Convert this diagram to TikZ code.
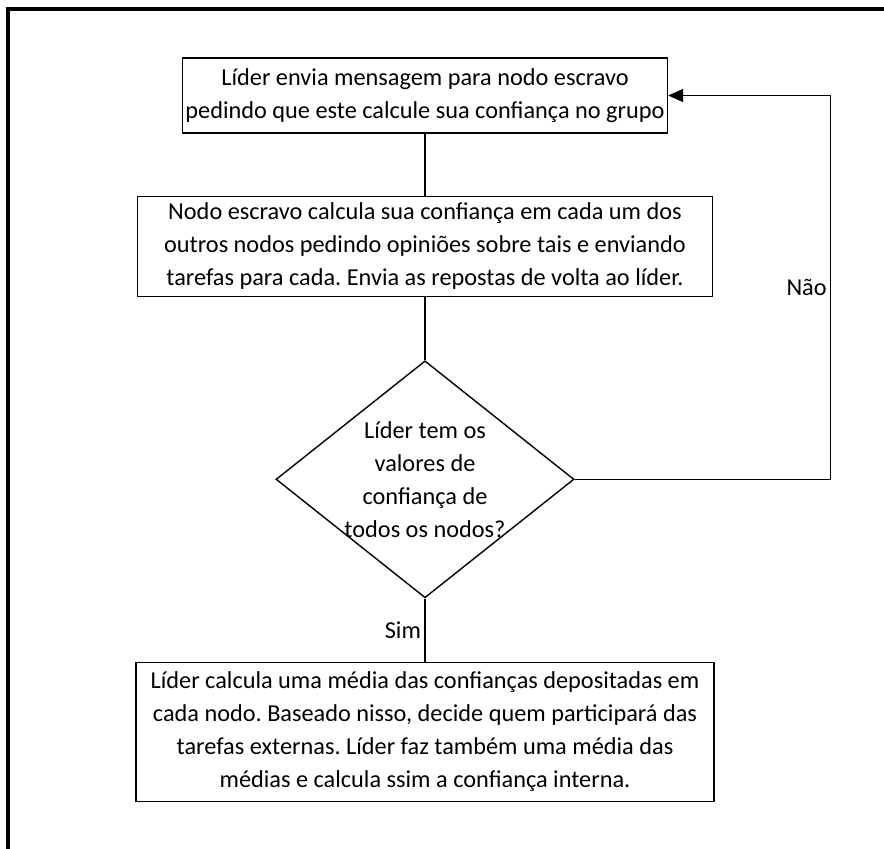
\documentclass[tikz,border=0pt]{standalone}
\usepackage{fontspec}
\setmainfont{Carlito}
\usetikzlibrary{arrows.meta, positioning, shapes.geometric}
\frenchspacing

\begin{document}
\begin{tikzpicture}[x=1pt, y=1pt, >={Triangle[length=15pt,width=13pt]},
  every node/.style={font=\fontsize{24.3}{33}\selectfont},
  process/.style={draw, rectangle, line width=1.4pt, inner sep=0pt, align=center},
  decision/.style={draw, diamond, line width=1.4pt, inner sep=0pt, minimum width=298pt, minimum height=237pt},
  flow/.style={line width=1.4pt}]
\useasboundingbox (0,0) rectangle (884,-849);
% frame
\draw[line width=3.5pt] (8,-849) -- (8,-9) -- (884,-9);
\node[process, minimum width=485pt, minimum height=75pt] (lider) at (425,-95.5) {L\'ider envia mensagem para nodo escravo\\pedindo que este calcule sua confian\c{c}a no grupo};
\node[process, minimum width=575pt, minimum height=100pt, below=62pt of lider] (escravo) {Nodo escravo calcula sua confian\c{c}a em cada um dos\\outros nodos pedindo opini\~oes sobre tais e enviando\\tarefas para cada. Envia as repostas de volta ao l\'ider.};
\node[decision, below=63pt of escravo, label={[align=center]center:L\'ider tem os\\valores de\\confian\c{c}a de\\todos os nodos?}] (teste) {};
\node[process, minimum width=578pt, minimum height=139pt, below=63pt of teste] (media) {L\'ider calcula uma m\'edia das confian\c{c}as depositadas em\\cada nodo. Baseado nisso, decide quem participar\'a das\\tarefas externas. L\'ider faz tamb\'em uma m\'edia das\\m\'edias e calcula ssim a confian\c{c}a interna.};
\draw[flow] (lider) -- (escravo);
\draw[flow] (escravo) -- (teste);
\draw[flow] (teste) -- node[left]{Sim} (media);
\draw[flow, ->] (teste.east) -- ++(256,0) |- node[pos=0.25, left]{N\~ao} (lider.east);
\end{tikzpicture}
\end{document}
